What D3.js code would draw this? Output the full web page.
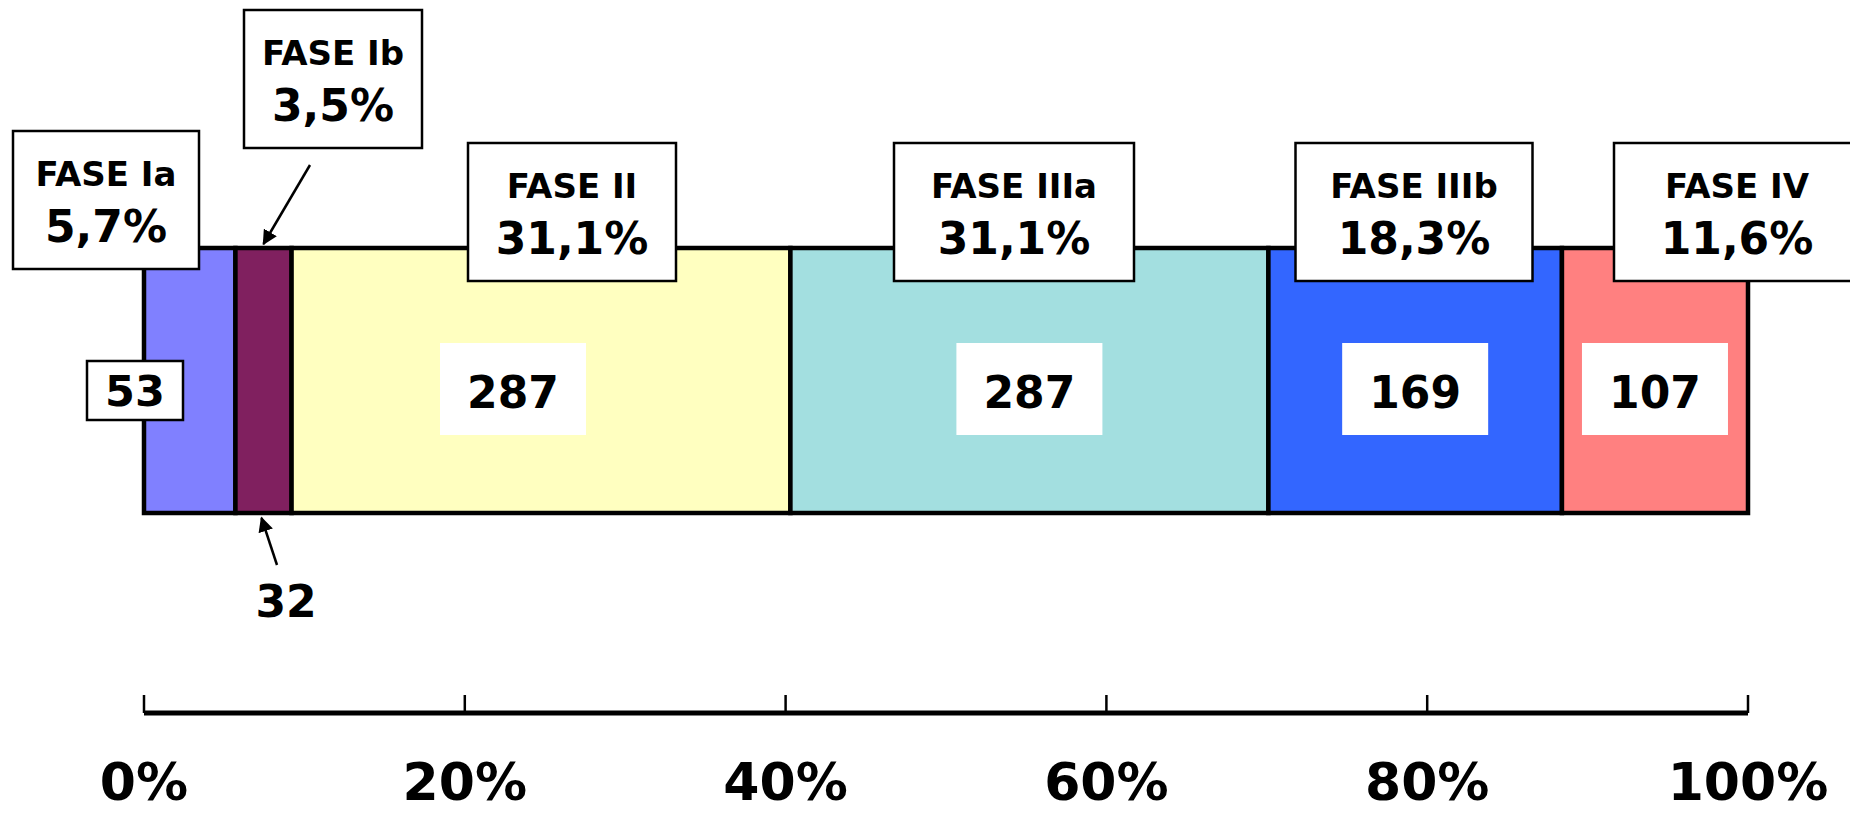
<!DOCTYPE html>
<html>
<head>
<meta charset="utf-8">
<script src="https://cdn.jsdelivr.net/npm/d3@7"></script>
<style>
  body { margin: 0; background: #fff; }
  text { font-family: "DejaVu Sans", Verdana, sans-serif; font-weight: bold; fill: #000; }
</style>
</head>
<body>
<div id="chart"></div>
<script>
// phases of the stacked bar
var phases = ['FASE Ia', 'FASE Ib', 'FASE II', 'FASE IIIa', 'FASE IIIb', 'FASE IV'];
var counts = [53, 32, 287, 287, 169, 107];
// share of the bar each phase takes (as drawn), and the printed labels
var shares = [5.7, 3.5, 31.1, 29.8, 18.3, 11.6];
var percents = ['5,7%', '3,5%', '31,1%', '31,1%', '18,3%', '11,6%'];
var colors = ['#8080ff', '#80205f', '#ffffc0', '#a3dfe0', '#3366ff', '#ff8080'];
var tickValues = [0, 20, 40, 60, 80, 100];

var width = 1850, height = 813;
var barTop = 248, barBottom = 513;

// label placement (hand tuned against the original)
var topBox = [
  {cx: 106, w: 186, top: 131},
  {cx: 333, w: 178, top: 10},
  {cx: 572, w: 208, top: 143},
  {cx: 1014, w: 240, top: 143},
  {cx: 1414, w: 237, top: 143},
  {cx: 1737, w: 246, top: 143}
];
var valueDx = [0, 0, -28, 0, 0, 0];

var svg = d3.select('#chart').append('svg')
  .attr('width', width)
  .attr('height', height);

var x = d3.scaleLinear().domain([0, 100]).range([144, 1748]);

var segs = [];
var acc = 0;
shares.forEach(function(s, i) {
  segs.push({i: i, x0: acc, x1: acc + s, n: counts[i]});
  acc += s;
});

// bar segments
svg.append('g').selectAll('rect')
  .data(segs)
  .enter().append('rect')
  .attr('x', d => x(d.x0))
  .attr('y', barTop)
  .attr('width', d => x(d.x1) - x(d.x0))
  .attr('height', barBottom - barTop)
  .attr('fill', d => colors[d.i])
  .attr('stroke', '#000')
  .attr('stroke-width', 4.5);

// value labels in white boxes
var vals = svg.append('g');
segs.forEach(function(d) {
  if (d.i === 0 || d.i === 1) return;
  var cx = (x(d.x0) + x(d.x1)) / 2 + valueDx[d.i];
  vals.append('rect')
    .attr('x', cx - 73).attr('y', 343)
    .attr('width', 146).attr('height', 92)
    .attr('fill', '#fff');
  vals.append('text')
    .attr('x', cx).attr('y', 408)
    .attr('text-anchor', 'middle')
    .style('font-size', '44px')
    .text(d.n);
});

// the 53 box sits on the left edge
vals.append('rect')
  .attr('x', 87).attr('y', 361)
  .attr('width', 96).attr('height', 59)
  .attr('fill', '#fff').attr('stroke', '#000').attr('stroke-width', 2.5);
vals.append('text')
  .attr('x', 135).attr('y', 406)
  .attr('text-anchor', 'middle')
  .style('font-size', '43px')
  .text(counts[0]);

// arrowhead
svg.append('defs').append('marker')
  .attr('id', 'arr')
  .attr('viewBox', '0 0 10 10')
  .attr('refX', 9).attr('refY', 5)
  .attr('markerWidth', 6).attr('markerHeight', 6)
  .attr('markerUnits', 'strokeWidth')
  .attr('orient', 'auto')
  .append('path').attr('d', 'M0,0 L10,5 L0,10 Z').attr('fill', '#000');

var ibCenter = (x(segs[1].x0) + x(segs[1].x1)) / 2;
svg.append('line')
  .attr('x1', 310).attr('y1', 165)
  .attr('x2', ibCenter).attr('y2', 244)
  .attr('stroke', '#000').attr('stroke-width', 2.5)
  .attr('marker-end', 'url(#arr)');
svg.append('line')
  .attr('x1', 277).attr('y1', 565)
  .attr('x2', ibCenter - 2).attr('y2', 518)
  .attr('stroke', '#000').attr('stroke-width', 2.5)
  .attr('marker-end', 'url(#arr)');
svg.append('text')
  .attr('x', 286).attr('y', 617)
  .attr('text-anchor', 'middle')
  .style('font-size', '44px')
  .text(counts[1]);

// phase boxes on top
var boxes = svg.append('g').selectAll('g')
  .data(phases)
  .enter().append('g');
boxes.append('rect')
  .attr('x', (d, i) => topBox[i].cx - topBox[i].w / 2)
  .attr('y', (d, i) => topBox[i].top)
  .attr('width', (d, i) => topBox[i].w)
  .attr('height', 138)
  .attr('fill', '#fff')
  .attr('stroke', '#000')
  .attr('stroke-width', 2.5);
boxes.append('text')
  .attr('x', (d, i) => topBox[i].cx)
  .attr('y', (d, i) => topBox[i].top + 55)
  .attr('text-anchor', 'middle')
  .style('font-size', '34px')
  .text(d => d);
boxes.append('text')
  .attr('x', (d, i) => topBox[i].cx)
  .attr('y', (d, i) => topBox[i].top + 111)
  .attr('text-anchor', 'middle')
  .style('font-size', '44px')
  .text((d, i) => percents[i]);

// percent axis
var axis = svg.append('g').attr('transform', 'translate(0,713)');
axis.append('line')
  .attr('x1', x(0)).attr('x2', x(100))
  .attr('stroke', '#000').attr('stroke-width', 5);
axis.selectAll('line.tick')
  .data(tickValues)
  .enter().append('line')
  .attr('class', 'tick')
  .attr('x1', d => x(d)).attr('x2', d => x(d))
  .attr('y1', -18).attr('y2', 0)
  .attr('stroke', '#000').attr('stroke-width', 2.5);
axis.selectAll('text')
  .data(tickValues)
  .enter().append('text')
  .attr('x', d => x(d))
  .attr('y', 87)
  .attr('text-anchor', 'middle')
  .style('font-size', '52px')
  .text(d => d + '%');
</script>
</body>
</html>
